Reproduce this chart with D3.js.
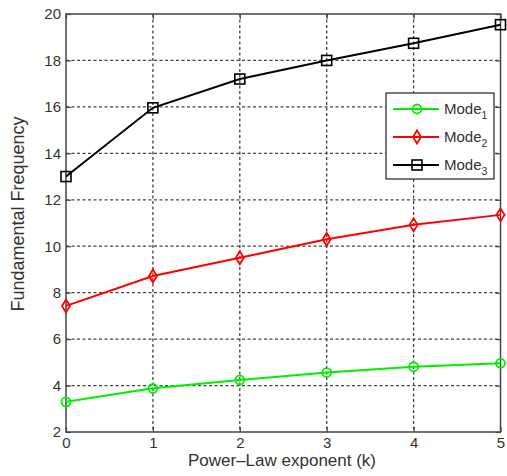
<!DOCTYPE html>
<html>
<head>
<meta charset="utf-8">
<script src="https://cdn.jsdelivr.net/npm/d3@7"></script>
<style>
  body { margin: 0; background: #fff; }
  text { font-family: 'Liberation Sans', Arial, sans-serif; fill: #333; }
</style>
</head>
<body>
<div id="chart"></div>
<script>
const kValues = [0, 1, 2, 3, 4, 5];
const mode1 = [3.3, 3.88, 4.24, 4.56, 4.81, 4.96];
const mode2 = [7.43, 8.72, 9.5, 10.3, 10.92, 11.35];
const mode3 = [13.0, 15.96, 17.2, 18.0, 18.74, 19.54];
const yTicks = [2, 4, 6, 8, 10, 12, 14, 16, 18, 20];
const seriesNames = ['Mode1', 'Mode2', 'Mode3'];

const width = 507;
const height = 476;
const margin = { t: 14, r: 6, b: 44, l: 66 };

const series = [
  { name: seriesNames[0], sub: '1', values: mode1, color: '#00ee00', marker: 'circle' },
  { name: seriesNames[1], sub: '2', values: mode2, color: '#ff0000', marker: 'diamond' },
  { name: seriesNames[2], sub: '3', values: mode3, color: '#000000', marker: 'square' },
];

const svg = d3
  .select('#chart')
  .append('svg')
  .attr('width', width)
  .attr('height', height);

const x = d3.scaleLinear().domain([0, 5]).range([margin.l, width - margin.r - 0.5]);
const y = d3.scaleLinear().domain([2, 20]).range([height - margin.b, margin.t]);

// grid
const grid = svg.append('g').attr('stroke', '#444').attr('stroke-width', 1.3)
  .attr('stroke-dasharray', '3,2.5');
grid.selectAll('.vgrid')
  .data(kValues.slice(1, -1))
  .join('line')
  .attr('x1', (d) => x(d)).attr('x2', (d) => x(d))
  .attr('y1', y(20)).attr('y2', y(2));
grid.selectAll('.hgrid')
  .data(yTicks.slice(1, -1))
  .join('line')
  .attr('x1', x(0)).attr('x2', x(5))
  .attr('y1', (d) => y(d)).attr('y2', (d) => y(d));

// frame
svg.append('rect')
  .attr('x', x(0)).attr('y', y(20))
  .attr('width', x(5) - x(0)).attr('height', y(2) - y(20))
  .attr('fill', 'none').attr('stroke', '#444').attr('stroke-width', 1.5);

// axes with inner ticks
const xAxis = svg.append('g')
  .attr('transform', `translate(0, ${y(2)})`)
  .call(d3.axisBottom(x).tickValues(kValues).tickFormat(d3.format('d')).tickSizeInner(-5).tickSizeOuter(0).tickPadding(5));
const yAxis = svg.append('g')
  .attr('transform', `translate(${x(0)}, 0)`)
  .call(d3.axisLeft(y).tickValues(yTicks).tickSizeInner(-5).tickSizeOuter(0).tickPadding(5));
const xAxisTop = svg.append('g')
  .attr('transform', `translate(0, ${y(20)})`)
  .call(d3.axisTop(x).tickValues(kValues).tickFormat('').tickSizeInner(-5).tickSizeOuter(0));
const yAxisRight = svg.append('g')
  .attr('transform', `translate(${x(5)}, 0)`)
  .call(d3.axisRight(y).tickValues(yTicks).tickFormat('').tickSizeInner(-5).tickSizeOuter(0));
[xAxis, yAxis, xAxisTop, yAxisRight].forEach((a) => {
  a.select('.domain').remove();
  a.selectAll('line').attr('stroke', '#444').attr('stroke-width', 1.2);
  a.selectAll('text').style('font-size', '15px').style('font-family', "'Liberation Sans', Arial, sans-serif").attr('fill', '#333');
});

// markers
function drawMarker(g, type, color, cx, cy) {
  if (type === 'circle') {
    g.append('circle').attr('cx', cx).attr('cy', cy).attr('r', 4.5)
      .attr('fill', 'none').attr('stroke', color).attr('stroke-width', 1.8);
  } else if (type === 'diamond') {
    g.append('path')
      .attr('d', `M${cx},${cy - 6.5}L${cx + 4},${cy}L${cx},${cy + 6.5}L${cx - 4},${cy}Z`)
      .attr('fill', 'none').attr('stroke', color).attr('stroke-width', 1.8);
  } else {
    g.append('rect').attr('x', cx - 5).attr('y', cy - 5).attr('width', 10).attr('height', 10)
      .attr('fill', 'none').attr('stroke', color).attr('stroke-width', 1.6);
  }
}

const line = d3.line()
  .x((d, i) => x(kValues[i]))
  .y((d) => y(d));

series.forEach((s) => {
  const g = svg.append('g');
  g.append('path')
    .attr('d', line(s.values))
    .attr('fill', 'none')
    .attr('stroke', s.color)
    .attr('stroke-width', 2);
  s.values.forEach((v, i) => drawMarker(g, s.marker, s.color, x(kValues[i]), y(v)));
});

// legend
const legend = svg.append('g').attr('transform', 'translate(386, 93)');
legend.append('rect')
  .attr('width', 108).attr('height', 86)
  .attr('fill', '#fff').attr('stroke', '#333').attr('stroke-width', 1.3);
series.forEach((s, i) => {
  const ly = 16 + i * 28;
  legend.append('line')
    .attr('x1', 7).attr('x2', 53).attr('y1', ly).attr('y2', ly)
    .attr('stroke', s.color).attr('stroke-width', 2);
  drawMarker(legend, s.marker, s.color, 31, ly);
  const t = legend.append('text')
    .attr('x', 58).attr('y', ly + 5)
    .style('font-size', '15px')
    .attr('fill', '#333');
  t.append('tspan').text('Mode');
  t.append('tspan').attr('dy', 5).style('font-size', '10.5px').text(s.sub);
});

// axis titles
svg.append('text')
  .attr('x', 282).attr('y', 466)
  .attr('text-anchor', 'middle')
  .style('font-size', '17px')
  .text('Power\u2013Law exponent (k)');
svg.append('text')
  .attr('transform', 'translate(24, 214) rotate(-90)')
  .attr('text-anchor', 'middle')
  .style('font-size', '18px')
  .text('Fundamental Frequency');
</script>
</body>
</html>
